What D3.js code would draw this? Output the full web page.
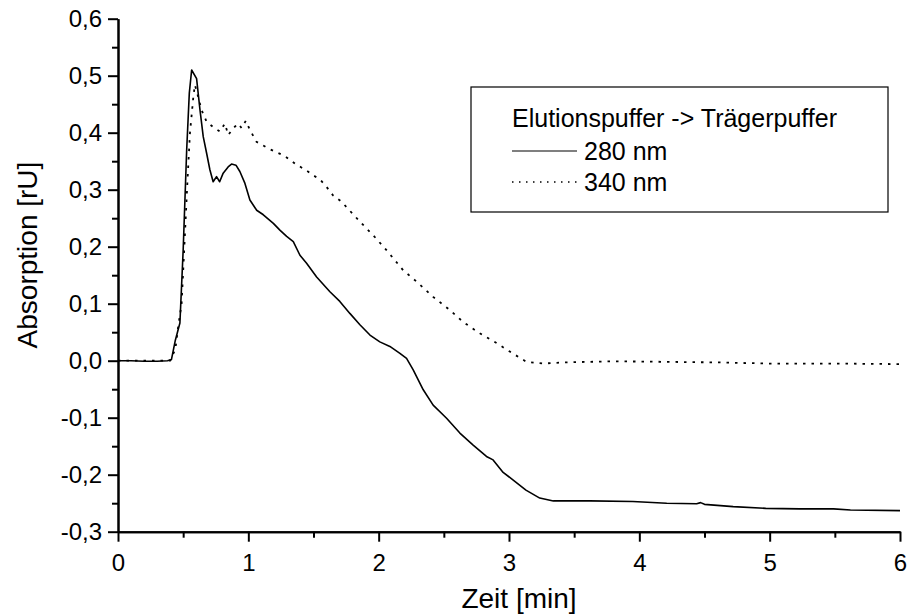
<!DOCTYPE html>
<html>
<head>
<meta charset="utf-8">
<script src="https://cdn.jsdelivr.net/npm/d3@7"></script>
<style>
  body { margin: 0; background: #fff; }
  text { font-family: "Liberation Sans", Arial, sans-serif; fill: #000; }
</style>
</head>
<body>
<div class="chart"></div>
<script>
// 280 nm trace (solid)
const time280 = [0, 0.1, 0.2, 0.3, 0.38, 0.41, 0.44, 0.475, 0.5, 0.527, 0.547, 0.565, 0.603, 0.629, 0.654, 0.68,
    0.705, 0.73, 0.756, 0.78, 0.807, 0.845, 0.871, 0.905, 0.935, 0.974, 1.012, 1.064, 1.115, 1.192, 1.242,
    1.294, 1.345, 1.396, 1.447, 1.524, 1.626, 1.702, 1.779, 1.856, 1.933, 2.009, 2.086, 2.163, 2.214, 2.265,
    2.342, 2.418, 2.521, 2.623, 2.725, 2.827, 2.878, 2.955, 3.03, 3.13, 3.236, 3.34, 3.62, 3.95, 4.21, 4.44,
    4.47, 4.5, 4.72, 4.97, 5.23, 5.49, 5.62, 6.0];
const abs280 = [0.0, 0.0, -0.001, -0.001, 0.0, 0.002, 0.036, 0.066, 0.194, 0.37, 0.469, 0.51, 0.495, 0.44, 0.393, 0.364,
    0.335, 0.314, 0.323, 0.314, 0.329, 0.34, 0.345, 0.343, 0.332, 0.311, 0.282, 0.264, 0.256, 0.241, 0.229,
    0.218, 0.209, 0.185, 0.171, 0.147, 0.121, 0.104, 0.083, 0.063, 0.045, 0.033, 0.025, 0.013, 0.004, -0.016,
    -0.051, -0.078, -0.101, -0.127, -0.148, -0.168, -0.174, -0.196, -0.209, -0.227, -0.241, -0.246, -0.246, -0.247, -0.25, -0.251,
    -0.249, -0.252, -0.256, -0.259, -0.26, -0.26, -0.262, -0.263];

// 340 nm trace (dotted)
const time340 = [0, 0.1, 0.2, 0.3, 0.4, 0.44, 0.462, 0.488, 0.514, 0.532, 0.552, 0.578, 0.59, 0.615, 0.641, 0.68,
    0.73, 0.782, 0.82, 0.846, 0.884, 0.923, 0.948, 0.981, 1.012, 1.063, 1.166, 1.28, 1.357, 1.45, 1.5, 1.55,
    1.6, 1.65, 1.715, 1.856, 1.958, 2.06, 2.187, 2.29, 2.418, 2.546, 2.648, 2.776, 2.904, 3.006, 3.134, 3.262,
    3.415, 3.8, 4.2, 4.6, 5.0, 5.5, 6.0];
const abs340 = [0.0, 0.0, 0.0, 0.0, 0.0, 0.02, 0.06, 0.1, 0.224, 0.311, 0.399, 0.463, 0.484, 0.463, 0.44, 0.419,
    0.41, 0.402, 0.416, 0.396, 0.408, 0.416, 0.408, 0.421, 0.405, 0.384, 0.371, 0.359, 0.346, 0.333, 0.325, 0.318,
    0.305, 0.29, 0.279, 0.244, 0.22, 0.194, 0.159, 0.139, 0.112, 0.089, 0.068, 0.048, 0.031, 0.016, -0.002, -0.005,
    -0.003, -0.001, -0.002, -0.003, -0.005, -0.005, -0.006];

const xTicks = [0, 1, 2, 3, 4, 5, 6];
const xMinorTicks = [0.5, 1.5, 2.5, 3.5, 4.5, 5.5];
const yTicks = [-0.3, -0.2, -0.1, 0.0, 0.1, 0.2, 0.3, 0.4, 0.5, 0.6];
const yMinorTicks = [-0.25, -0.15, -0.05, 0.05, 0.15, 0.25, 0.35, 0.45, 0.55];

const legendTitle = 'Elutionspuffer -> Trägerpuffer';
const seriesNames = ['280 nm', '340 nm'];

const fullWidth = 909;
const fullHeight = 614;

const svg = d3.select('.chart')
    .append('svg')
        .attr('width', fullWidth)
        .attr('height', fullHeight);

const xScale = d3.scaleLinear()
    .domain([0, 6])
    .range([118, 900]);

const yScale = d3.scaleLinear()
    .domain([-0.3, 0.6])
    .range([531.7, 18.7]);

// german decimal comma, plain hyphen for minus
const fmt = d3.formatLocale({decimal: ',', thousands: '.', grouping: [3], currency: ['', ''], minus: '-'}).format('.1f');

// minor ticks first so the major ones sit on top
svg.append('g')
    .attr('transform', `translate(0, ${yScale(-0.3)})`)
    .call(d3.axisBottom(xScale).tickValues(xMinorTicks).tickSize(6).tickSizeOuter(0).tickFormat(''));
svg.append('g')
    .attr('transform', `translate(${xScale(0)}, 0)`)
    .call(d3.axisLeft(yScale).tickValues(yMinorTicks).tickSize(6).tickSizeOuter(0).tickFormat(''));

const xAxis = d3.axisBottom(xScale)
    .tickValues(xTicks)
    .tickSize(10)
    .tickSizeOuter(0)
    .tickPadding(12)
    .tickFormat(d3.format('d'));
svg.append('g')
    .attr('class', 'x axis')
    .attr('transform', `translate(0, ${yScale(-0.3)})`)
    .call(xAxis);

const yAxis = d3.axisLeft(yScale)
    .tickValues(yTicks)
    .tickSize(10)
    .tickSizeOuter(0)
    .tickPadding(6)
    .tickFormat(fmt);
svg.append('g')
    .attr('class', 'y axis')
    .attr('transform', `translate(${xScale(0)}, 0)`)
    .call(yAxis);

svg.selectAll('.domain, .tick line')
    .attr('stroke', '#000')
    .attr('stroke-width', 2);
svg.selectAll('.tick text')
    .style('font-size', '24px')
    .style('font-family', '"Liberation Sans", Arial, sans-serif')
    .attr('fill', '#000');

// axis titles
svg.append('text')
    .attr('x', 519)
    .attr('y', 608)
    .attr('text-anchor', 'middle')
    .style('font-size', '28px')
    .text('Zeit [min]');

svg.append('text')
    .attr('transform', 'translate(37, 255) rotate(-90)')
    .attr('text-anchor', 'middle')
    .style('font-size', '28px')
    .text('Absorption [rU]');

// traces
const line = d3.line()
    .x(d => xScale(d[0]))
    .y(d => yScale(d[1]));

svg.append('path')
    .datum(time280.map((t, i) => [t, abs280[i]]))
    .attr('fill', 'none')
    .attr('stroke', '#000')
    .attr('stroke-width', 1.6)
    .attr('stroke-linejoin', 'round')
    .attr('d', line);

svg.append('path')
    .datum(time340.map((t, i) => [t, abs340[i]]))
    .attr('fill', 'none')
    .attr('stroke', '#000')
    .attr('stroke-width', 1.8)
    .attr('stroke-dasharray', '2.5,6')
    .attr('d', line);

// legend
const legend = svg.append('g');
legend.append('rect')
    .attr('x', 471)
    .attr('y', 87)
    .attr('width', 417)
    .attr('height', 125)
    .attr('fill', '#fff')
    .attr('stroke', '#000')
    .attr('stroke-width', 1.2);

legend.append('text')
    .attr('x', 512)
    .attr('y', 127)
    .style('font-size', '25px')
    .text(legendTitle);

const entryY = [151, 182];
const entryDash = [null, '1.5,5.5'];
seriesNames.forEach((name, i) => {
    legend.append('line')
        .attr('x1', 512)
        .attr('x2', 577)
        .attr('y1', entryY[i])
        .attr('y2', entryY[i])
        .attr('stroke', '#000')
        .attr('stroke-width', i ? 1.4 : 1.2)
        .attr('stroke-dasharray', entryDash[i]);
    legend.append('text')
        .attr('x', 584)
        .attr('y', entryY[i] + 9)
        .style('font-size', '25px')
        .text(name);
});
</script>
</body>
</html>
